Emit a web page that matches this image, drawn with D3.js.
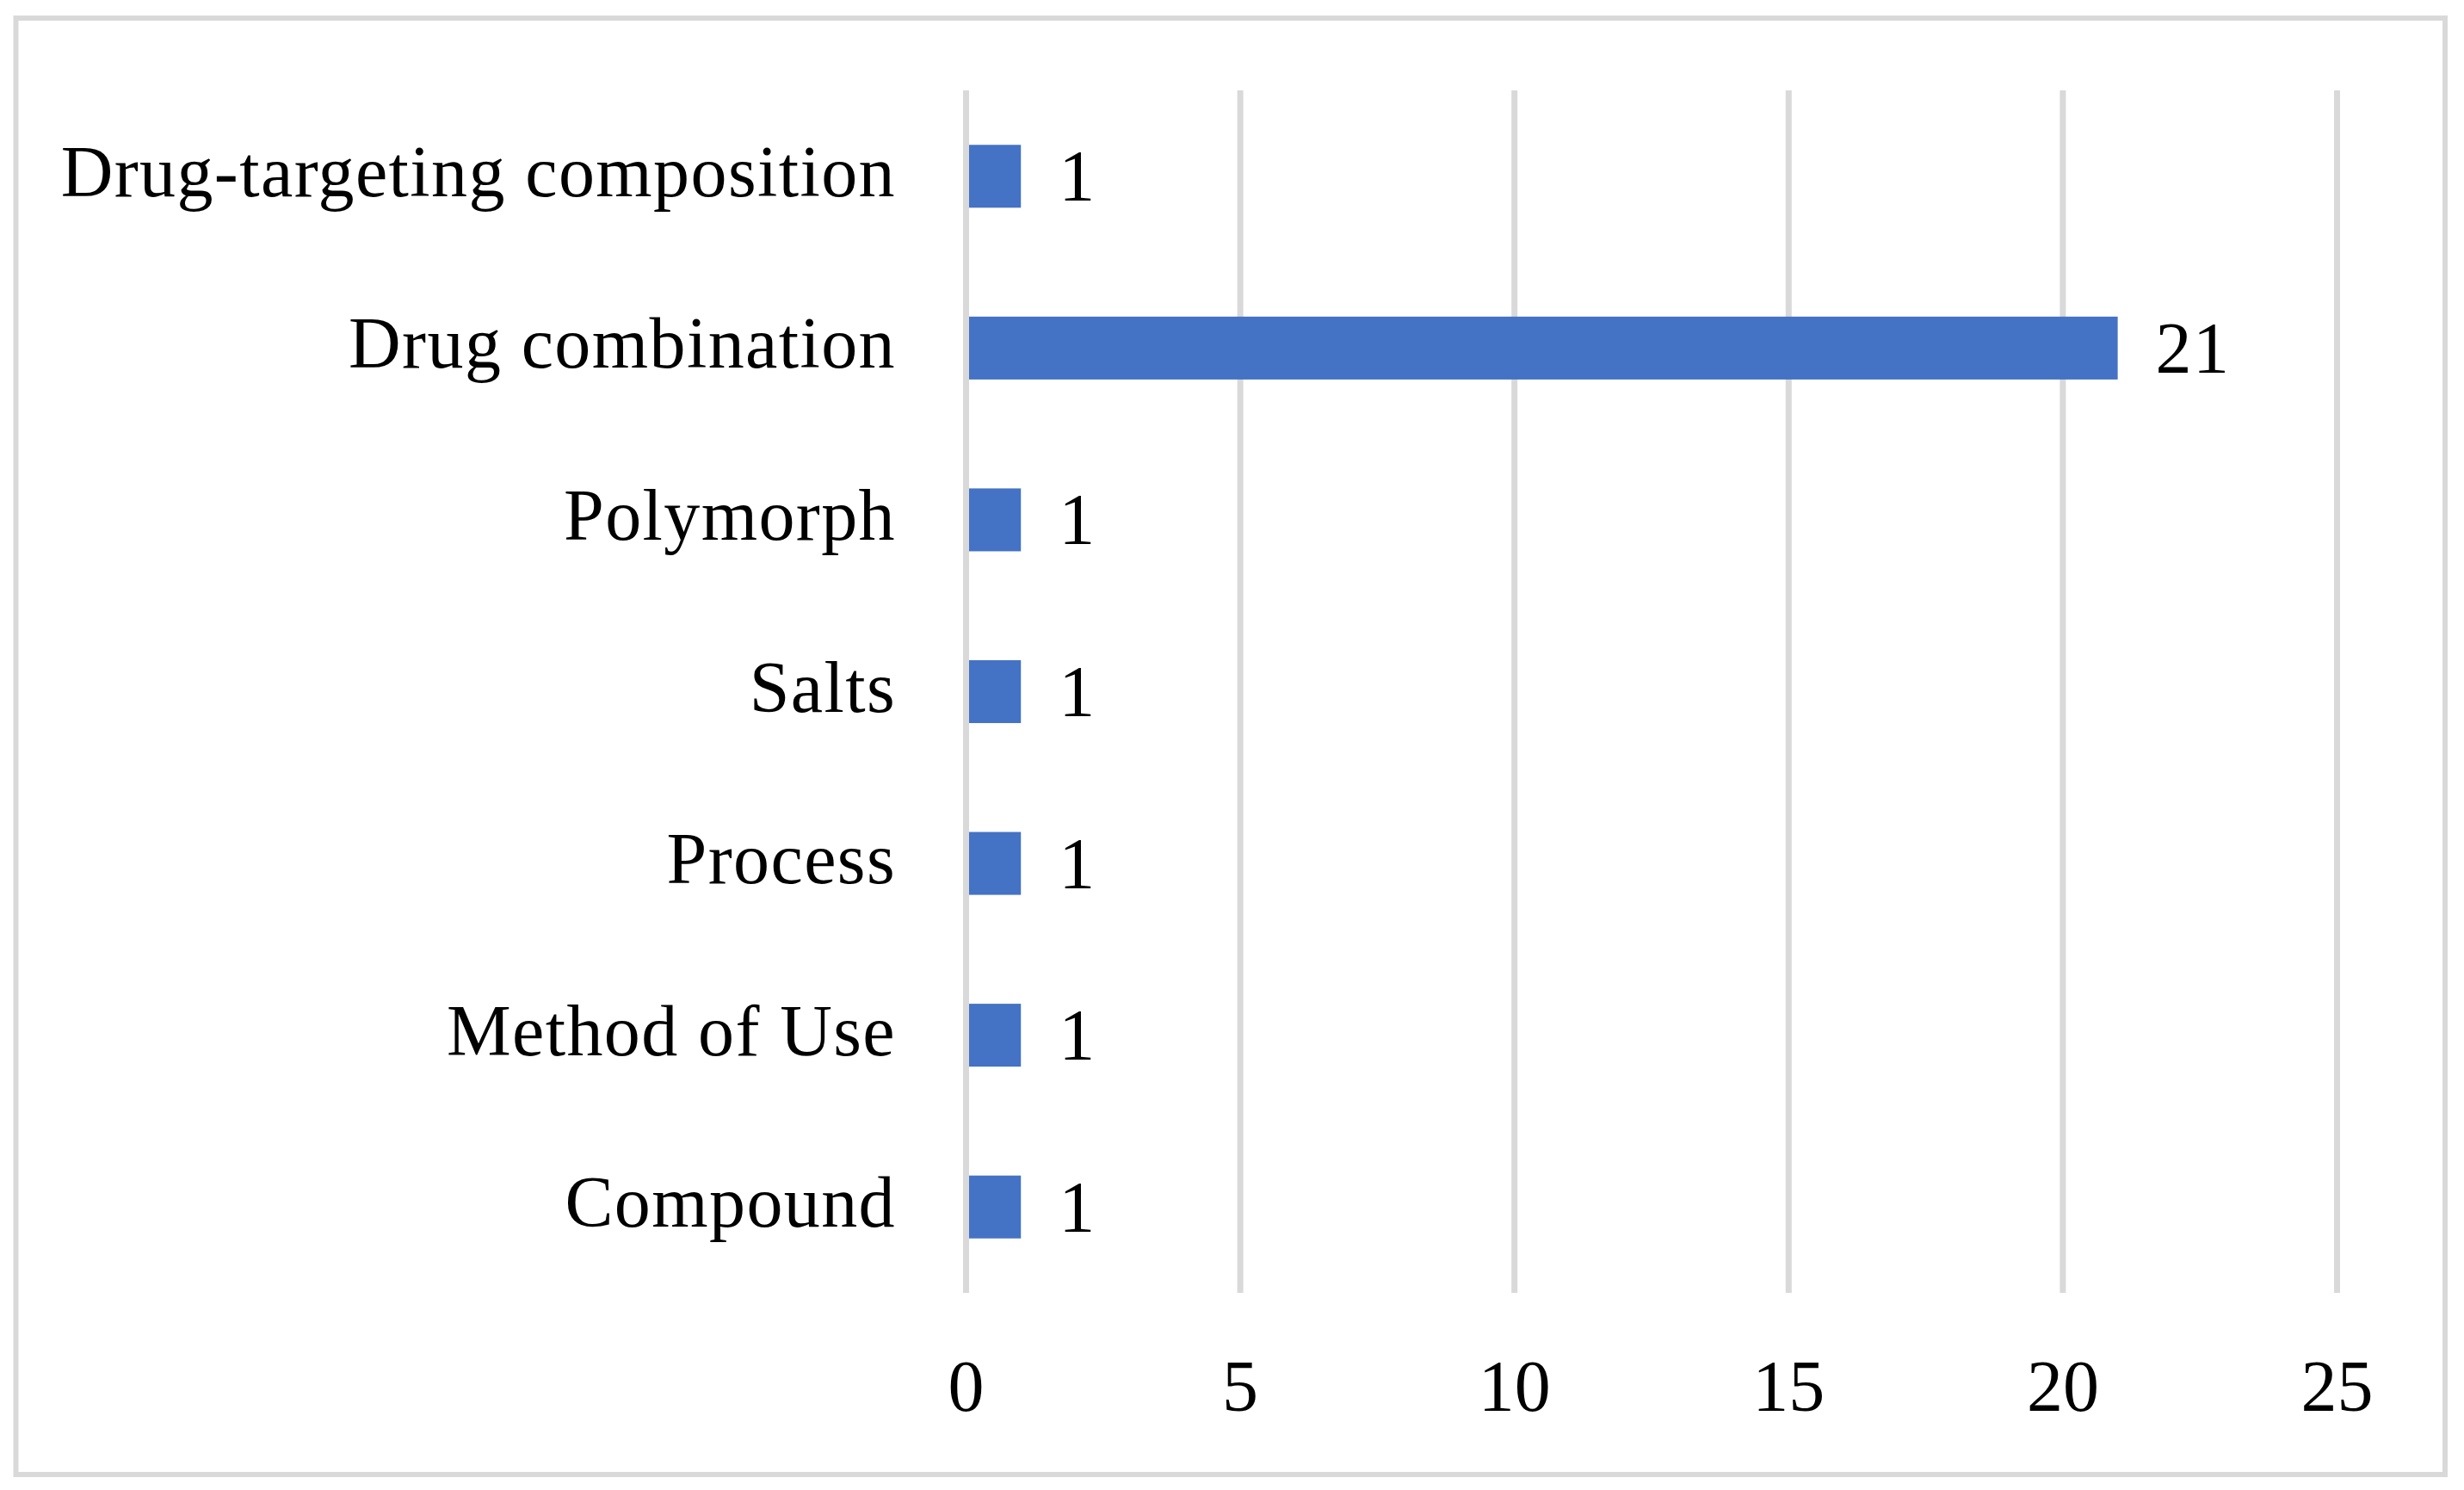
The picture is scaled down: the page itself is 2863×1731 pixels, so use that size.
<!DOCTYPE html>
<html>
<head>
<meta charset="utf-8">
<script src="https://cdn.jsdelivr.net/npm/d3@7"></script>
<style>
  html, body { margin: 0; padding: 0; background: #fff; }
  svg { display: block; }
</style>
</head>
<body>
<svg id="chart" width="2863" height="1731"></svg>
<script>
// Data
const categories = ["Drug-targeting composition", "Drug combination", "Polymorph", "Salts", "Process", "Method of Use", "Compound"];
const values = [1, 21, 1, 1, 1, 1, 1];
const xTicks = [0, 5, 10, 15, 20, 25];

const W = 2863, H = 1731;
const plot = { left: 1122.5, right: 2715.5, top: 105, bottom: 1502 };
const fontFamily = "'Liberation Serif', 'Times New Roman', serif";
const fontSize = 84;
const grid = "#d9d9d9";
const barColor = "#4472C4";

const svg = d3.select("#chart");

// Outer border
svg.append("rect")
  .attr("x", 18.5).attr("y", 21)
  .attr("width", 2841 - 18.5).attr("height", 1713 - 21)
  .attr("fill", "#fff").attr("stroke", grid).attr("stroke-width", 6);

const x = d3.scaleLinear().domain([0, 25]).range([plot.left, plot.right]);
const y = d3.scaleBand().domain(categories).range([plot.top, plot.bottom])
  .paddingInner(0.634).paddingOuter(0.317);

const data = categories.map((c, i) => ({ cat: c, val: values[i] }));

// Gridlines (non-zero)
svg.append("g").selectAll("line").data(xTicks.filter(t => t !== 0)).join("line")
  .attr("x1", d => x(d)).attr("x2", d => x(d))
  .attr("y1", plot.top).attr("y2", plot.bottom)
  .attr("stroke", grid).attr("stroke-width", 7);

// Bars
svg.append("g").selectAll("rect").data(data).join("rect")
  .attr("x", x(0)).attr("y", d => y(d.cat))
  .attr("width", d => x(d.val) - x(0))
  .attr("height", y.bandwidth())
  .attr("fill", barColor);

// Zero axis line on top
svg.append("line")
  .attr("x1", x(0)).attr("x2", x(0))
  .attr("y1", plot.top).attr("y2", plot.bottom)
  .attr("stroke", grid).attr("stroke-width", 7);

// Value labels
svg.append("g").selectAll("text").data(data).join("text")
  .attr("x", d => x(d.val) + 44)
  .attr("y", d => y(d.cat) + y.bandwidth() / 2 + 28.5)
  .attr("font-family", fontFamily).attr("font-size", fontSize)
  .attr("letter-spacing", "1.4px")
  .attr("fill", "#000")
  .text(d => d.val);

// Category labels
svg.append("g").selectAll("text").data(categories).join("text")
  .attr("x", 1041)
  .attr("y", d => y(d) + y.bandwidth() / 2 + 23)
  .attr("text-anchor", "end")
  .attr("font-family", fontFamily).attr("font-size", fontSize)
  .attr("letter-spacing", "1.4px")
  .attr("fill", "#000")
  .text(d => d);

// X tick labels
svg.append("g").selectAll("text").data(xTicks).join("text")
  .attr("x", d => x(d))
  .attr("y", 1639)
  .attr("text-anchor", "middle")
  .attr("font-family", fontFamily).attr("font-size", fontSize)
  .attr("fill", "#000")
  .text(d => d);
</script>
</body>
</html>
